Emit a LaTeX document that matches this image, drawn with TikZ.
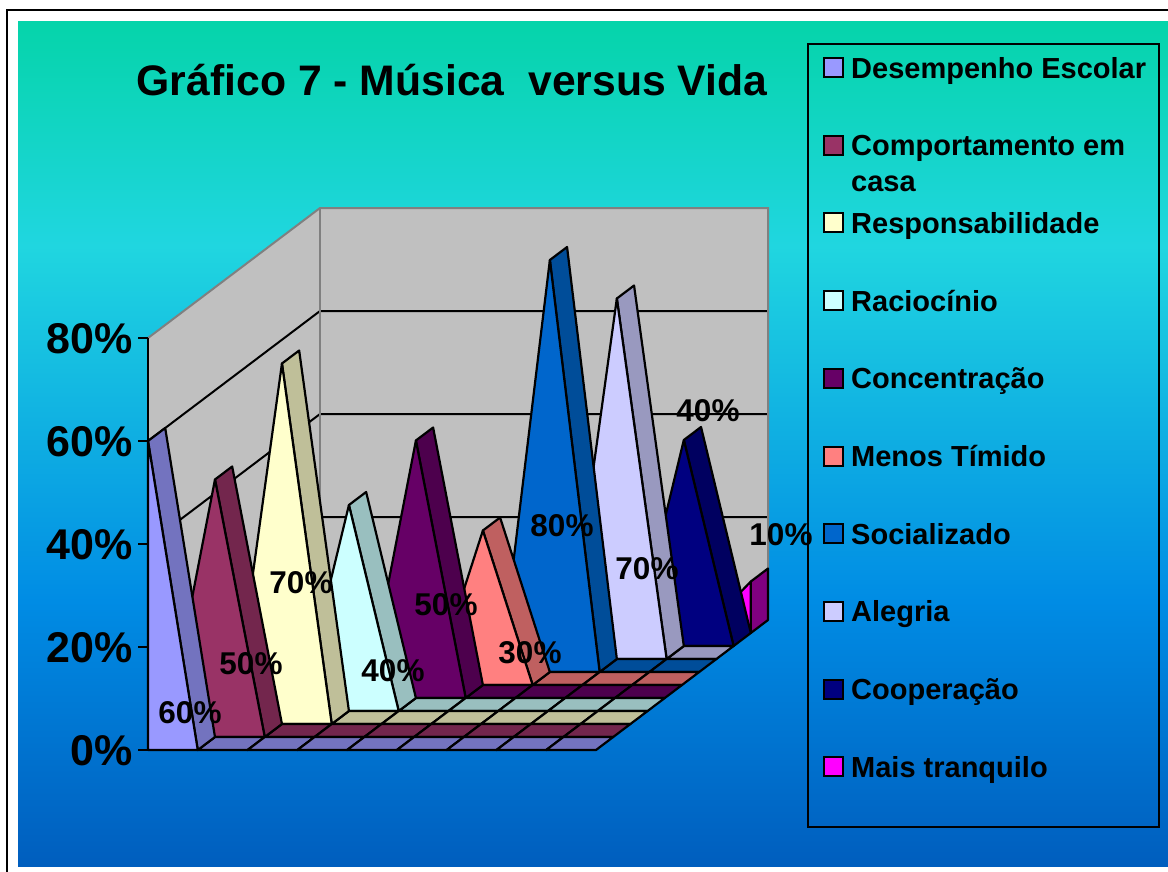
\documentclass[tikz,border=0pt]{standalone}
\usepackage{fontspec}
\setmainfont{Liberation Sans}
\definecolor{f0}{HTML}{9999FF} \definecolor{d0}{HTML}{7373BF}
\definecolor{f1}{HTML}{993366} \definecolor{d1}{HTML}{73264D}
\definecolor{f2}{HTML}{FFFFCC} \definecolor{d2}{HTML}{BFBF99}
\definecolor{f3}{HTML}{CCFFFF} \definecolor{d3}{HTML}{99BFBF}
\definecolor{f4}{HTML}{660066} \definecolor{d4}{HTML}{4D004D}
\definecolor{f5}{HTML}{FF8080} \definecolor{d5}{HTML}{BF6060}
\definecolor{f6}{HTML}{0066CC} \definecolor{d6}{HTML}{004D99}
\definecolor{f7}{HTML}{CCCCFF} \definecolor{d7}{HTML}{9999BF}
\definecolor{f8}{HTML}{000080} \definecolor{d8}{HTML}{000060}
\definecolor{f9}{HTML}{FF00FF} \definecolor{d9}{HTML}{800080}
\definecolor{wallgray}{HTML}{C0C0C0}
\definecolor{edgegray}{HTML}{808080}
\definecolor{bgA}{HTML}{005EBE}
\definecolor{bgB}{HTML}{008CE4}
\definecolor{bgC}{HTML}{20D6E0}
\definecolor{bgD}{HTML}{05D4AA}
\pgfdeclareverticalshading{bgshade}{100bp}{color(0bp)=(bgA); color(25bp)=(bgA); color(40.7bp)=(bgB); color(61.7bp)=(bgC); color(75bp)=(bgD); color(100bp)=(bgD)}
\tikzset{
  face/.style={draw=black, line width=2.2pt, line join=round},
  gridln/.style={draw=black, line width=2pt},
  wedge/.style={draw=edgegray, line width=2pt},
  axisln/.style={draw=black, line width=2.2pt},
  axlabel/.style={font=\fontsize{43}{48}\selectfont\bfseries, inner sep=0pt, anchor=base east},
  datalabel/.style={font=\fontsize{31.5}{36}\selectfont\bfseries, inner sep=0pt, anchor=base},
  legtext/.style={font=\fontsize{29}{34}\selectfont\bfseries, inner sep=0pt, anchor=base west},
  swatch/.style={draw=black, line width=2pt, minimum size=19pt, inner sep=0pt},
}
\begin{document}
\begin{tikzpicture}[x=1pt,y=-1pt]
\useasboundingbox (0,0) rectangle (1168,871);
\fill[white] (0,0) rectangle (1168,871);
\shade[shading=bgshade] (18,21) rectangle (1168,866);
\draw[line width=2.5pt] (7,872) -- (7,10) -- (1170,10);
% walls
\fill[wallgray] (148,338) -- (320,208) -- (320,620) -- (148,750) -- cycle;
\fill[wallgray] (320,208) rectangle (768,620);
\foreach \j in {1,2,3}{
  \draw[gridln] (148,{750-103*\j}) -- (320,{620-103*\j}) -- (768,{620-103*\j});
}
\draw[wedge] (148,338) -- (320,208) -- (768,208) -- (768,620);
\draw[wedge] (320,208) -- (320,620);
% y axis
\draw[axisln] (148,338) -- (148,750);
\foreach \j in {0,...,4}{
  \draw[axisln] (138,{750-103*\j}) -- (148,{750-103*\j});
}
% series, back to front
\foreach \s/\v in {9/10,8/40,7/70,6/80,5/30,4/50,3/40,2/70,1/50,0/60}{
  \pgfmathsetmacro\ox{148+\s*17.2}
  \pgfmathsetmacro\oy{750-\s*13}
  \foreach \k in {0,...,8}{
    \pgfmathtruncatemacro\flat{or(\k<=\s-2,\k>=\s+1)}
    \ifnum\flat=1
      \filldraw[face, fill=d\s] ({\ox+\k*49.7778},\oy) -- ++(49.7778,0) -- ++(17.2,-13) -- ++(-49.7778,0) -- cycle;
    \fi
  }
  \pgfmathtruncatemacro\ka{max(\s-1,0)}
  \pgfmathtruncatemacro\kc{min(\s+1,9)}
  \pgfmathsetmacro\ax{\ox+\ka*49.7778}
  \pgfmathsetmacro\bx{\ox+\s*49.7778}
  \pgfmathsetmacro\by{\oy-\v*5.15}
  \pgfmathsetmacro\cx{\ox+\kc*49.7778}
  \filldraw[face, fill=d\s] (\bx,\by) -- (\cx,\oy) -- ++(17.2,-13) -- ({\bx+17.2},{\by-13}) -- cycle;
  \filldraw[face, fill=f\s] (\ax,\oy) -- (\bx,\by) -- (\cx,\oy) -- cycle;
}
% axis labels
\node[axlabel] (y80) at (133,353.4) {80\%};
\node[axlabel] (y60) at (133,456.4) {60\%};
\node[axlabel] (y40) at (133,559.4) {40\%};
\node[axlabel] (y20) at (133,662.4) {20\%};
\node[axlabel] (y0) at (133,765.4) {0\%};
% data labels
\foreach \n/\x/\y/\t in {0/190/712/60,1/251/663/50,2/301/582/70,3/393/670/40,4/446/604/50,5/530/652/30,6/562/525/80,7/647/568/70,8/708/410/40,9/781/534/10}{
  \node[datalabel] (lab\n) at (\x,{\y+11.3}) {\t\%};
}
% legend
\draw[line width=2.2pt] (808,44) rectangle (1159,827);
\foreach \i/\t in {0/Desempenho Escolar,1/Comportamento em,2/Responsabilidade,3/Raciocínio,4/Concentração,5/Menos Tímido,6/Socializado,7/Alegria,8/Cooperação,9/Mais tranquilo}{
  \pgfmathsetmacro\yb{78+77.7*\i}
  \node[swatch, fill=f\i] (sw\i) at (833,{\yb-10.5}) {};
  \node[legtext] (lg\i) at (851,\yb) {\t};
}
\node[legtext] (lg1b) at (851,191.5) {casa};
% title
\node[font=\fontsize{42.7}{48}\selectfont\bfseries, inner sep=0pt, anchor=base] (title) at (452,95) {Gráfico 7 - Música \ versus Vida};
\end{tikzpicture}
\end{document}
